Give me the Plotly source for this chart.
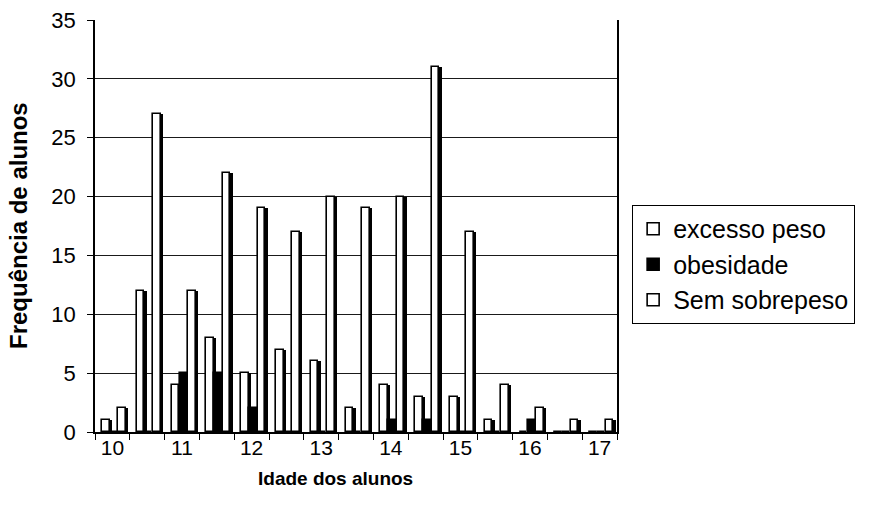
import plotly.graph_objects as go

# ---- data ----
idades = [10, 10.5, 11, 11.5, 12, 12.5, 13, 13.5, 14, 14.5, 15, 15.5, 16, 16.5, 17]
excesso_peso = [1, 12, 4, 8, 5, 7, 6, 2, 4, 3, 3, 1, 0, 0, 0]
obesidade = [0, 0, 5, 5, 2, 0, 0, 0, 1, 1, 0, 0, 1, 0, 0]
sem_sobrepeso = [2, 27, 12, 22, 19, 17, 20, 19, 20, 31, 17, 4, 2, 1, 1]
tick_vals = [10, 11, 12, 13, 14, 15, 16, 17]
tick_text = ["10", "11", "12", "13", "14", "15", "16", "17"]
y_ticks = [0, 5, 10, 15, 20, 25, 30, 35]

series = [
    ("excesso peso", excesso_peso, "white", -0.15),
    ("obesidade", obesidade, "black", -0.035),
    ("Sem sobrepeso", sem_sobrepeso, "white", 0.085),
]

W = 0.11      # front face width (x units)
SIDE = 0.035  # 3D side depth

fig = go.Figure()

# dark "side" faces drawn first (pseudo 3D)
for name, vals, col, off in series:
    fig.add_trace(go.Bar(
        x=idades, y=vals, offset=off + SIDE, width=W,
        marker=dict(color="black", line=dict(width=0)),
        showlegend=False, hoverinfo="skip",
    ))

# front faces
for i, (name, vals, col, off) in enumerate(series):
    fig.add_trace(go.Bar(
        x=idades, y=vals, offset=off, width=W, name=name,
        legendgroup=f"g{i}",
        marker=dict(color=col, line=dict(color="black", width=1.6)),
    ))

font = "Liberation Sans, Arial, sans-serif"
minor_vals = [v - 0.25 for v in idades] + [idades[-1] + 0.25]

fig.update_layout(
    width=892, height=512,
    margin=dict(l=95, r=275, t=20, b=80),
    paper_bgcolor="white", plot_bgcolor="white",
    barmode="overlay",
    bargap=0,
    font=dict(family=font, color="black", size=21),
    showlegend=True,
    legend=dict(
        x=1.029, y=0.551, xanchor="left", yanchor="top",
        bordercolor="black", borderwidth=1, bgcolor="white",
        font=dict(family=font, size=25, color="black"),
        tracegroupgap=4,
        traceorder="normal",
    ),
    xaxis=dict(
        range=[idades[0] - 0.25, idades[-1] + 0.25],
        tickmode="array", tickvals=tick_vals, ticktext=tick_text,
        ticks="", showgrid=False,
        showline=True, linecolor="black", linewidth=1.5,
        tickfont=dict(size=21, family=font),
        ticklabelstandoff=-4,
        minor=dict(tickmode="array", tickvals=minor_vals, ticks="outside",
                   ticklen=6, tickcolor="black", tickwidth=1, showgrid=False),
        automargin=False,
        zeroline=False, mirror=False,
    ),
    yaxis=dict(
        range=[0, 35], tickmode="array", tickvals=y_ticks,
        ticks="outside", ticklen=6, tickcolor="black",
        ticklabelstandoff=7,
        showgrid=True, gridcolor="#1a1a1a", gridwidth=1,
        showline=True, linecolor="black", linewidth=1.5, mirror=True,
        tickfont=dict(size=22, family=font),
        automargin=False,
        zeroline=False,
    ),
    annotations=[
        dict(text="<b>Idade dos alunos</b>", xref="paper", yref="paper",
             x=0.46, y=-0.114, xanchor="center", yanchor="middle",
             showarrow=False, font=dict(size=19, family=font, color="black")),
        dict(text="<b>Frequência de alunos</b>", xref="paper", yref="paper",
             x=-0.1475, y=0.5, xanchor="center", yanchor="middle", textangle=-90,
             showarrow=False, font=dict(size=24, family=font, color="black")),
    ],
)

fig.write_html("out.html", config={"displayModeBar": False},
               post_script="document.body.style.margin='0';")
